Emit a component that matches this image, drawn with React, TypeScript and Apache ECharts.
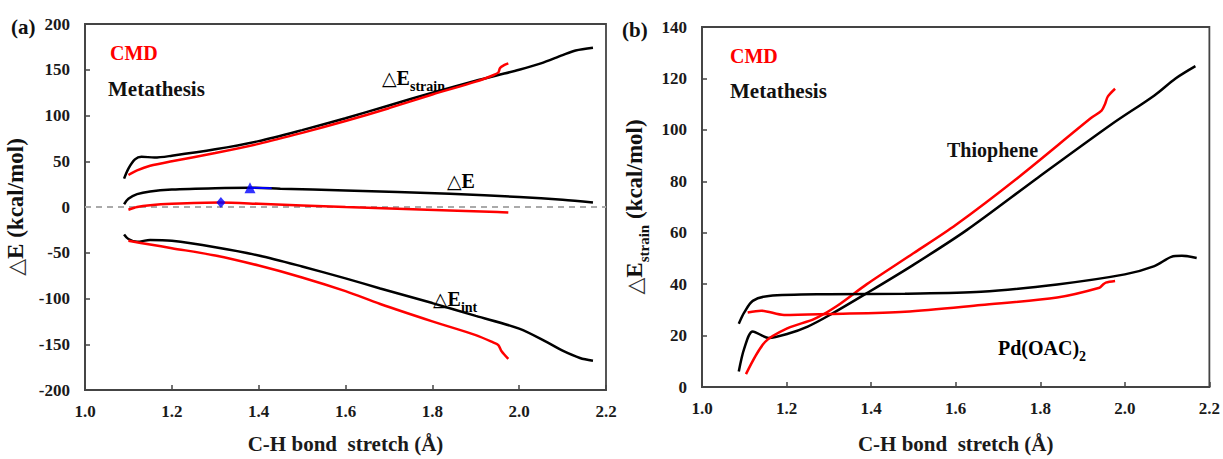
import React, { useEffect, useRef } from "react";
import * as echarts from "echarts";

// ---- Panel (a) data: [C-H stretch (Å), energy (kcal/mol)] ----
const strainMeta: number[][] = [[1.09,31],[1.1,42],[1.115,52],[1.13,55],[1.16,54],[1.2,56],[1.3,63],[1.4,72],[1.5,84],[1.6,97],[1.7,111],[1.8,125],[1.9,138],[1.95,144],[2.0,150],[2.05,157],[2.1,166],[2.13,171],[2.17,174]];
const strainCMD: number[][] = [[1.1,35],[1.12,40],[1.15,45],[1.2,50],[1.3,59],[1.4,69],[1.5,81],[1.6,94],[1.7,108],[1.8,123],[1.9,137],[1.94,144],[1.952,147],[1.956,152],[1.965,155],[1.975,157]];
const dEMeta: number[][] = [[1.09,3],[1.1,9],[1.12,14],[1.15,17],[1.2,19],[1.3,20.5],[1.38,21],[1.45,20],[1.6,18],[1.84,14.5],[2.0,11],[2.1,8],[2.17,5]];
const dECMD: number[][] = [[1.1,-3],[1.12,0],[1.15,2],[1.2,3.5],[1.31,4.8],[1.4,3.5],[1.6,0],[1.84,-3.7],[1.95,-5.5],[1.975,-6]];
const intMeta: number[][] = [[1.09,-30],[1.1,-35],[1.12,-38],[1.15,-36],[1.2,-37],[1.3,-44],[1.4,-53],[1.5,-65],[1.6,-78],[1.68,-89],[1.8,-105],[1.9,-119],[2.0,-133],[2.065,-148],[2.1,-157],[2.14,-165],[2.17,-168]];
const intCMD: number[][] = [[1.1,-37],[1.15,-41],[1.2,-45],[1.3,-53],[1.4,-64],[1.5,-77],[1.6,-92],[1.68,-106],[1.8,-125],[1.9,-140],[1.94,-148],[1.952,-151],[1.96,-158],[1.975,-166]];
const zeroLine: number[][] = [[1.0,0],[2.2,0]];
const tsMeta: number[][] = [[1.38,21]];
const tsMetaSeg: number[][] = [[1.38,21],[1.43,20.6]];
const tsCMD: number[][] = [[1.313,4.8]];

// ---- Panel (b) data: strain energies (kcal/mol) ----
const thioMeta: number[][] = [[1.087,6],[1.1,15],[1.12,21.6],[1.158,19.1],[1.203,20.7],[1.25,23.5],[1.3,27.8],[1.39,36.5],[1.5,47.5],[1.626,61],[1.795,81.5],[1.967,102],[2.07,113.4],[2.12,120],[2.167,124.8]];
const thioCMD: number[][] = [[1.104,5],[1.149,17.5],[1.203,22.9],[1.266,26.5],[1.32,31.6],[1.39,40],[1.5,52],[1.6,63],[1.748,81.5],[1.92,104.6],[1.945,107.5],[1.953,110],[1.96,113],[1.977,116]];
const pdMeta: number[][] = [[1.087,24.6],[1.1,29],[1.12,33.5],[1.158,35.4],[1.3,36.1],[1.48,36.3],[1.66,37],[1.84,39.9],[2.0,43.8],[2.07,47],[2.11,50.6],[2.135,51],[2.17,50.2]];
const pdCMD: number[][] = [[1.108,29],[1.14,29.7],[1.194,28],[1.3,28.4],[1.48,29.3],[1.66,31.9],[1.84,34.8],[1.94,38.6],[1.948,39.8],[1.955,40.6],[1.977,41.2]];

const xMin = 1.0, xMax = 2.2, xStep = 0.2;
const yAMin = -200, yAMax = 200, yAStep = 50;
const yBMin = 0, yBMax = 140, yBStep = 20;

const FONT = "Liberation Serif";

export default function App() {
  const ref = useRef<HTMLDivElement>(null);
  useEffect(() => {
    document.body.style.margin = "0";
    const chart = echarts.init(ref.current!, null, { renderer: "svg" });
    const axisLine = { onZero: false, lineStyle: { color: "#444", width: 1.8 } };
    const axisTick = { inside: true, length: 5, lineStyle: { color: "#444", width: 1.5 } };
    const lbl = { color: "#1a1a1a", fontFamily: FONT, fontWeight: "bold" as const, fontSize: 17 };
    const xAxisBase = (gi: number) => ({
      type: "value", gridIndex: gi, min: xMin, max: xMax, interval: xStep,
      axisLine, axisTick, splitLine: { show: false },
      axisLabel: { ...lbl, margin: 13, formatter: (v: number) => v.toFixed(1) },
      name: "C-H bond  stretch (Å)", nameLocation: "middle", nameGap: gi === 0 ? 43 : 46,
      nameTextStyle: { ...lbl, fontSize: 21 },
    });
    const line = (name: string, data: number[][], color: string, xi: number, smooth = 0.3) => ({
      name, type: "line", xAxisIndex: xi, yAxisIndex: xi, data, smooth, showSymbol: false,
      lineStyle: { color, width: 2.5 }, z: 3,
    });
    const sub = { fontFamily: FONT, fontWeight: "bold", fontSize: 14, verticalAlign: "bottom", padding: [0, 0, -5, 0], color: "#111" };
    const big = { fontFamily: FONT, fontWeight: "bold", fontSize: 20, color: "#111" };
    const tri = { fontFamily: "DejaVu Sans", fontSize: 19, color: "#333" };
    const subY = { ...sub, fontSize: 15 };
    const bigY = { ...big, fontSize: 23 };
    const triY = { ...tri, fontSize: 22 };
    const txt = (x: number, y: number, text: string, fill: string, size = 20) => ({
      type: "text", x, y, style: { text, fill, fontFamily: FONT, fontWeight: "bold", fontSize: size, verticalAlign: "middle" },
    });
    const richTxt = (x: number, y: number, text: string) => ({
      type: "text", x, y, style: { text, rich: { tri, big, sub }, verticalAlign: "middle" },
    });
    chart.setOption({
      animation: false,
      textStyle: { fontFamily: FONT },
      grid: [
        { left: 85, top: 24, width: 521, height: 375, show: true, borderColor: "#444", borderWidth: 1.8, backgroundColor: "#fff" },
        { left: 702, top: 27, width: 510, height: 368, show: true, borderColor: "#444", borderWidth: 1.8, backgroundColor: "#fff" },
      ],
      xAxis: [xAxisBase(0), xAxisBase(1)],
      yAxis: [
        {
          type: "value", gridIndex: 0, min: yAMin, max: yAMax, interval: yAStep,
          axisLine: { show: true, ...axisLine }, axisTick, splitLine: { show: false },
          axisLabel: { ...lbl, margin: 15 },
          name: "{tri|△}{big|E (kcal/mol)}", nameLocation: "middle", nameGap: 58,
          nameTextStyle: { rich: { tri: triY, big: bigY } },
        },
        {
          type: "value", gridIndex: 1, min: yBMin, max: yBMax, interval: yBStep,
          axisLine: { show: true, ...axisLine }, axisTick, splitLine: { show: false },
          axisLabel: { ...lbl, margin: 15 },
          name: "{tri|△}{big|E}{sub|strain}{big| (kcal/mol)}", nameLocation: "middle", nameGap: 56,
          nameTextStyle: { rich: { tri: triY, big: bigY, sub: subY } },
        },
      ],
      series: [
        { name: "zero", type: "line", xAxisIndex: 0, yAxisIndex: 0, data: zeroLine, showSymbol: false,
          lineStyle: { color: "#aaa", width: 2, type: [6, 5] }, z: 2 },
        line("strainMeta", strainMeta, "#000", 0),
        line("strainCMD", strainCMD, "#ff0000", 0),
        line("dEMeta", dEMeta, "#000", 0),
        line("dECMD", dECMD, "#ff0000", 0),
        line("intMeta", intMeta, "#000", 0),
        line("intCMD", intCMD, "#ff0000", 0),
        { name: "tsSeg", type: "line", xAxisIndex: 0, yAxisIndex: 0, data: tsMetaSeg, showSymbol: false,
          lineStyle: { color: "#0000ff", width: 2 }, z: 4 },
        { name: "tsMeta", type: "scatter", xAxisIndex: 0, yAxisIndex: 0, data: tsMeta, symbol: "triangle",
          symbolSize: 11, itemStyle: { color: "#0000ff" }, z: 5 },
        { name: "tsCMD", type: "scatter", xAxisIndex: 0, yAxisIndex: 0, data: tsCMD, symbol: "diamond",
          symbolSize: [9, 11], itemStyle: { color: "#0000ff" }, z: 5 },
        line("thioMeta", thioMeta, "#000", 1),
        line("thioCMD", thioCMD, "#ff0000", 1),
        line("pdMeta", pdMeta, "#000", 1),
        line("pdCMD", pdCMD, "#ff0000", 1),
      ],
      graphic: [
        txt(11, 27, "(a)", "#111", 21),
        txt(110, 53, "CMD", "#ff0000"),
        txt(108, 89, "Metathesis", "#111", 21),
        richTxt(382, 78, "{tri|△}{big|E}{sub|strain}"),
        richTxt(447, 181, "{tri|△}{big|E}"),
        richTxt(433, 299, "{tri|△}{big|E}{sub|int}"),
        txt(622, 30, "(b)", "#111", 21),
        txt(730, 56, "CMD", "#ff0000"),
        txt(730, 91, "Metathesis", "#111", 21),
        txt(947, 150, "Thiophene", "#111"),
        { type: "text", x: 998, y: 348, style: { text: "{big|Pd(OAC)}{sub|2}", rich: { big, sub }, verticalAlign: "middle" } },
      ],
    });
    return () => chart.dispose();
  }, []);
  return <div ref={ref} style={{ width: 1223, height: 459 }} />;
}
